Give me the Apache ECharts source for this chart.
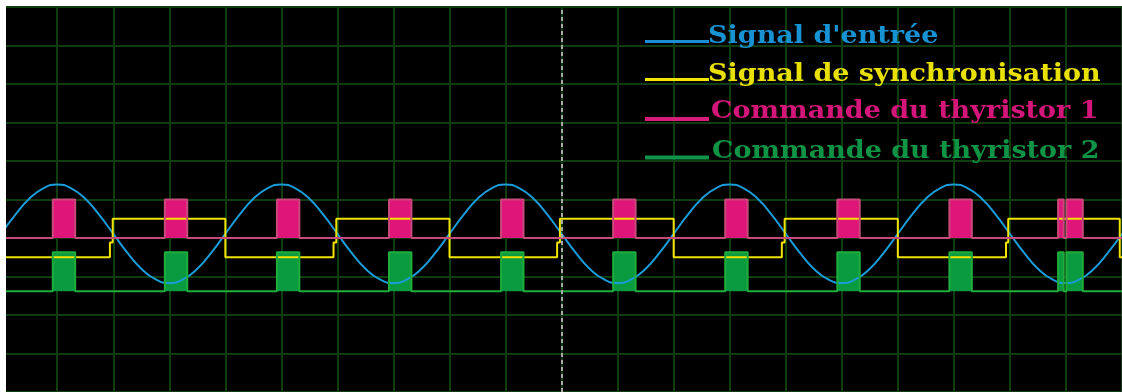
<!DOCTYPE html>
<html>
<head>
<meta charset="utf-8">
<script src="https://cdn.jsdelivr.net/npm/echarts@6/dist/echarts.min.js"></script>
<style>
  html, body { margin: 0; padding: 0; background: #ffffff; }
  #chart { width: 1122px; height: 392px; }
</style>
</head>
<body>
<div id="chart"></div>
<script>
// Time is measured in screen divisions (20 across), amplitudes in divisions (10 high).

// Input signal, sampled every quarter division
const inputStep = 0.25;
const inputSignal = [
  4.11, 4.60, 5.02, 5.29, 5.39, 5.29, 5.02, 4.60, 4.11, 3.62, 3.20, 2.93, 2.83, 2.93, 3.20, 3.62,
  4.11, 4.60, 5.02, 5.29, 5.39, 5.29, 5.02, 4.60, 4.11, 3.62, 3.20, 2.93, 2.83, 2.93, 3.20, 3.62,
  4.11, 4.60, 5.02, 5.29, 5.39, 5.29, 5.02, 4.60, 4.11, 3.62, 3.20, 2.93, 2.83, 2.93, 3.20, 3.62,
  4.11, 4.60, 5.02, 5.29, 5.39, 5.29, 5.02, 4.60, 4.11, 3.62, 3.20, 2.93, 2.83, 2.93, 3.20, 3.62,
  4.11, 4.60, 5.02, 5.29, 5.39, 5.29, 5.02, 4.60, 4.11, 3.62, 3.20, 2.93, 2.83, 2.93, 3.20, 3.62,
  4.11
];

// Synchronisation square wave
const syncLow = 3.5;
const syncMid = 3.88;
const syncHigh = 4.5;
const syncStepTimes = [1.94, 5.93, 9.92, 13.93, 17.93];
const syncRiseTimes = [1.99, 5.98, 9.97, 13.98, 17.97];
const syncFallTimes = [4.0, 8.0, 12.0, 16.0, 19.96];

// Gate pulses, thyristor 1
const gate1Low = 4.0;
const gate1High = 5.0;
const gate1Start = [0.92, 2.92, 4.92, 6.92, 8.92, 10.92, 12.92, 14.92, 16.92, 18.86, 19.01];
const gate1End   = [1.32, 3.32, 5.32, 7.32, 9.32, 11.32, 13.32, 15.32, 17.32, 18.96, 19.30];

// Gate pulses, thyristor 2
const gate2Low = 2.62;
const gate2High = 3.63;
const gate2Start = [0.92, 2.92, 4.92, 6.92, 8.92, 10.92, 12.92, 14.92, 16.92, 18.86, 19.01];
const gate2End   = [1.32, 3.32, 5.32, 7.32, 9.32, 11.32, 13.32, 15.32, 17.32, 18.96, 19.30];

// Cursor position
const cursorTime = 10;

const seriesNames = [
  "Signal d'entrée",
  'Signal de synchronisation',
  'Commande du thyristor 1',
  'Commande du thyristor 2'
];
const legendTextColors = ['#1792d2', '#e8e000', '#d4157a', '#0e9444'];
const legendLineColors = ['#1a90d2', '#f2e600', '#d81e7a', '#10944a'];

const tMin = 0, tMax = 20;

// Build point lists for the line series
const inputData = inputSignal.map((v, i) => [i * inputStep, v]);

const syncData = [[tMin, syncLow]];
syncStepTimes.forEach((ts, i) => {
  syncData.push([ts, syncLow], [ts, syncMid], [syncRiseTimes[i], syncMid],
                [syncRiseTimes[i], syncHigh], [syncFallTimes[i], syncHigh], [syncFallTimes[i], syncLow]);
});
syncData.push([tMax, syncLow]);

function pulseTrain(starts, ends, low, high) {
  const pts = [[tMin, low]];
  starts.forEach((s, i) => {
    pts.push([s, low], [s, high], [ends[i], high], [ends[i], low]);
  });
  pts.push([tMax, low]);
  return pts;
}
const gate1Data = pulseTrain(gate1Start, gate1End, gate1Low, gate1High);
const gate2Data = pulseTrain(gate2Start, gate2End, gate2Low, gate2High);

const chart = echarts.init(document.getElementById('chart'), null, { renderer: 'canvas' });

const gridColor = '#0f3d0f';

// Legend block (line sample + wide bold serif label) in the upper right
const legendLineY = [41.5, 79.5, 119, 157.5];
const legendLineH = [3, 3, 4, 4];
const legendTextX = [708, 708, 711, 712];
const legendTextY = [37, 75, 112, 152];
const legendGraphics = [];
seriesNames.forEach((name, i) => {
  legendGraphics.push({
    type: 'rect',
    shape: { x: 645, y: legendLineY[i] - legendLineH[i] / 2, width: 64, height: legendLineH[i] },
    style: { fill: legendLineColors[i] },
    z: 50
  });
  legendGraphics.push({
    type: 'text',
    x: legendTextX[i],
    y: legendTextY[i],
    scaleX: 1.125,
    style: {
      text: name,
      fill: legendTextColors[i],
      font: 'bold 24px "DejaVu Serif"',
      textAlign: 'left',
      textVerticalAlign: 'middle'
    },
    z: 50
  });
});

chart.setOption({
  animation: false,
  backgroundColor: '#ffffff',
  grid: {
    left: 1.2, top: 7, width: 1121, height: 387,
    show: true, backgroundColor: '#000000', borderWidth: 0
  },
  xAxis: {
    type: 'value', min: tMin, max: tMax, interval: 1,
    axisLine: { show: false }, axisTick: { show: false }, axisLabel: { show: false },
    splitLine: { show: true, lineStyle: { color: gridColor, width: 2 } }
  },
  yAxis: {
    type: 'value', min: 0, max: 10, interval: 1,
    axisLine: { show: false }, axisTick: { show: false }, axisLabel: { show: false },
    splitLine: { show: true, lineStyle: { color: gridColor, width: 2 } }
  },
  series: [
    {
      name: seriesNames[0], type: 'line', data: inputData, smooth: 0.5,
      showSymbol: false, lineStyle: { color: '#1b9cd8', width: 2 }
    },
    {
      name: seriesNames[1], type: 'line', data: syncData,
      showSymbol: false, lineStyle: { color: '#f0e400', width: 2 }
    },
    {
      name: seriesNames[2], type: 'line', data: gate1Data,
      showSymbol: false, lineStyle: { color: '#c84a7a', width: 2 },
      areaStyle: { color: '#e0157a', opacity: 1, origin: gate1Low }
    },
    {
      name: seriesNames[3], type: 'line', data: gate2Data,
      showSymbol: false, lineStyle: { color: '#1fae3c', width: 2 },
      areaStyle: { color: '#0a9a40', opacity: 1, origin: gate2Low },
      markLine: {
        silent: true, symbol: 'none', label: { show: false },
        lineStyle: { color: '#a8a8a8', type: [4, 3], width: 2 },
        data: [{ xAxis: cursorTime }]
      }
    }
  ],
  graphic: [
    { type: 'rect', shape: { x: 0, y: 0, width: 6, height: 392 }, style: { fill: '#ffffff' }, z: 100 }
  ].concat(legendGraphics)
});
</script>
</body>
</html>
